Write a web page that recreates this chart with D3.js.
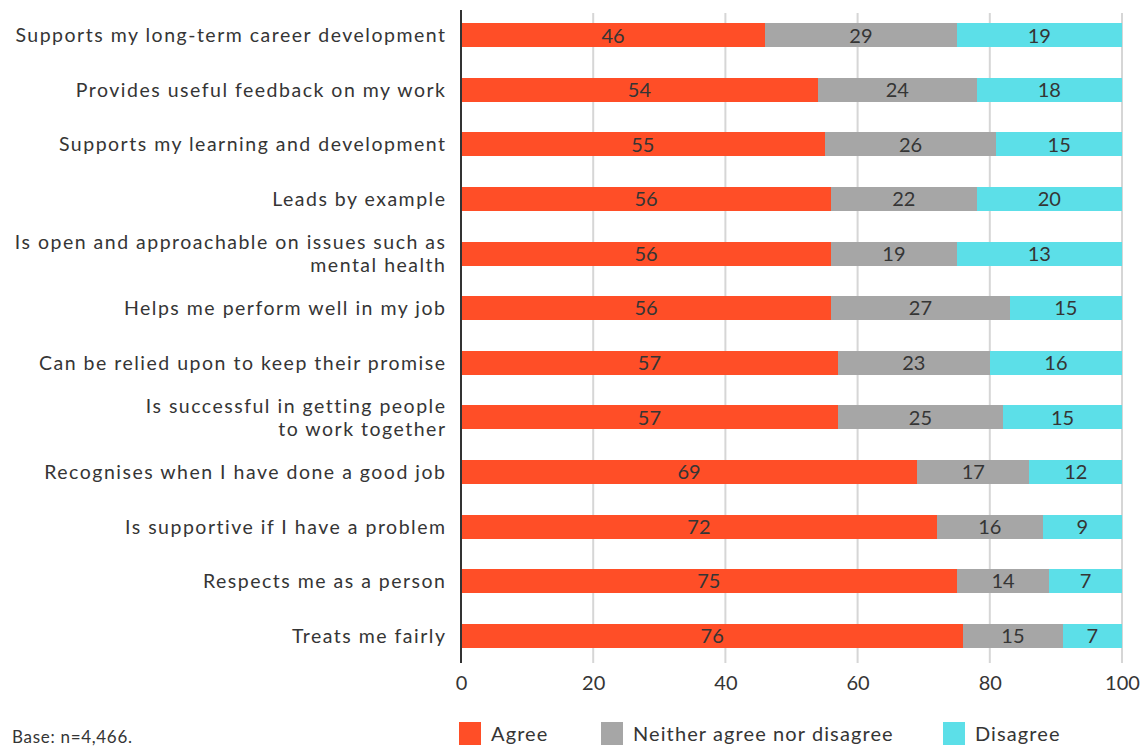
<!DOCTYPE html>
<html>
<head>
<meta charset="utf-8">
<script src="https://cdn.jsdelivr.net/npm/d3@7"></script>
<style>
  html, body { margin: 0; padding: 0; background: #fff; }
  svg { display: block; font-family: Lato, "Open Sans", sans-serif; }
</style>
</head>
<body>
<svg id="chart" width="1144" height="747"></svg>
<script>
// Manager statements, top to bottom
const categories = [
  ["Supports my long-term career development"],
  ["Provides useful feedback on my work"],
  ["Supports my learning and development"],
  ["Leads by example"],
  ["Is open and approachable on issues such as", "mental health"],
  ["Helps me perform well in my job"],
  ["Can be relied upon to keep their promise"],
  ["Is successful in getting people", "to work together"],
  ["Recognises when I have done a good job"],
  ["Is supportive if I have a problem"],
  ["Respects me as a person"],
  ["Treats me fairly"]
];

// Percentages per response
const agree    = [46, 54, 55, 56, 56, 56, 57, 57, 69, 72, 75, 76];
const neither  = [29, 24, 26, 22, 19, 27, 23, 25, 17, 16, 14, 15];
const disagree = [19, 18, 15, 20, 13, 15, 16, 15, 12,  9,  7,  7];
// Remaining responses, shaded with the disagree block
const remainder = [6, 4, 4, 2, 12, 2, 4, 3, 2, 3, 4, 2];

const xTicks = [0, 20, 40, 60, 80, 100];
const seriesNames = ["Agree", "Neither agree nor disagree", "Disagree"];
const seriesColors = ["#FF4E27", "#A6A6A6", "#5CDFE8"];

const svg = d3.select("#chart");
const textColor = "#353535";

const x = d3.scaleLinear().domain([0, 100]).range([461, 1122]);
const y = d3.scaleBand()
  .domain(d3.range(categories.length))
  .range([8, 663])
  .paddingInner(0.56)
  .paddingOuter(0.28);

// Vertical gridlines
svg.append("g")
  .selectAll("line")
  .data(xTicks.filter(t => t > 0))
  .join("line")
  .attr("x1", d => x(d)).attr("x2", d => x(d))
  .attr("y1", 13).attr("y2", 663)
  .attr("stroke", "#d6d6d6")
  .attr("stroke-width", 2);

// Stacked segments
const rows = categories.map((c, i) => ({
  i,
  segs: [
    { s: 0, x0: 0, x1: agree[i] },
    { s: 1, x0: agree[i], x1: agree[i] + neither[i] },
    { s: 2, x0: agree[i] + neither[i], x1: agree[i] + neither[i] + disagree[i] },
    { s: 2, x0: agree[i] + neither[i] + disagree[i], x1: agree[i] + neither[i] + disagree[i] + remainder[i] }
  ]
}));

const rowG = svg.append("g").selectAll("g")
  .data(rows)
  .join("g")
  .attr("transform", d => `translate(0,${y(d.i)})`);

rowG.selectAll("rect")
  .data(d => d.segs)
  .join("rect")
  .attr("x", d => x(d.x0))
  .attr("width", d => x(d.x1) - x(d.x0))
  .attr("y", 0)
  .attr("height", y.bandwidth())
  .attr("fill", d => seriesColors[d.s])
  .attr("shape-rendering", "crispEdges");

// Value labels: disagree label sits in the middle of the whole cyan block
rowG.each(function (d) {
  const g = d3.select(this);
  const i = d.i;
  const spans = [
    [0, agree[i], agree[i]],
    [agree[i], agree[i] + neither[i], neither[i]],
    [agree[i] + neither[i], agree[i] + neither[i] + disagree[i] + remainder[i], disagree[i]]
  ];
  g.selectAll("text.val")
    .data(spans)
    .join("text")
    .attr("class", "val")
    .attr("x", s => (x(s[0]) + x(s[1])) / 2)
    .attr("y", y.bandwidth() / 2)
    .attr("dy", "0.36em")
    .attr("text-anchor", "middle")
    .attr("font-size", 20)
    .attr("fill", textColor)
    .text(s => s[2]);
});

// Category labels
const labG = svg.append("g");
categories.forEach((lines, i) => {
  const cy = y(i) + y.bandwidth() / 2;
  const lh = 23.5;
  const t = labG.append("text")
    .attr("text-anchor", "end")
    .attr("font-size", 19.5)
    .attr("letter-spacing", "1.5px")
    .attr("fill", textColor);
  lines.forEach((ln, k) => {
    t.append("tspan")
      .attr("x", 446.5)
      .attr("y", cy + (k - (lines.length - 1) / 2) * lh)
      .attr("dy", "0.36em")
      .text(ln);
  });
});

// Left axis line
svg.append("line")
  .attr("x1", 461).attr("x2", 461)
  .attr("y1", 10).attr("y2", 663)
  .attr("stroke", "#333")
  .attr("stroke-width", 2);

// Bottom axis tick labels
const xAxis = d3.axisBottom(x).tickValues(xTicks).tickSize(0).tickPadding(0);
const axG = svg.append("g").attr("transform", "translate(0,676)").call(xAxis);
axG.select(".domain").remove();
axG.selectAll("text")
  .attr("font-family", "Lato, 'Open Sans', sans-serif")
  .attr("font-size", 20)
  .attr("fill", textColor)
  .attr("dy", "0.71em");

// Legend
const legendX = [459, 601, 943];
const leg = svg.append("g").selectAll("g")
  .data(seriesNames)
  .join("g")
  .attr("transform", (d, k) => `translate(${legendX[k]},722)`);
leg.append("rect")
  .attr("width", 22).attr("height", 23)
  .attr("fill", (d, k) => seriesColors[k]);
leg.append("text")
  .attr("x", 32).attr("y", 12).attr("dy", "0.36em")
  .attr("font-size", 20)
  .attr("letter-spacing", "1.1px")
  .attr("fill", textColor)
  .text(d => d);

// Base note
svg.append("text")
  .attr("x", 12).attr("y", 743)
  .attr("font-size", 17)
  .attr("letter-spacing", "0.7px")
  .attr("fill", textColor)
  .text("Base: n=4,466.");
</script>
</body>
</html>
